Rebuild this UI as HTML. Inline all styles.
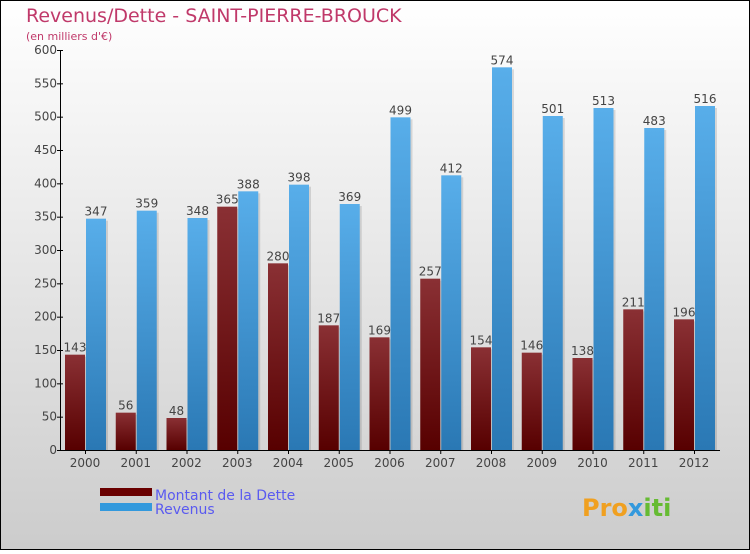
<!DOCTYPE html>
<html><head><meta charset="utf-8"><style>
body{margin:0}
#c{width:750px;height:550px;position:relative;font-family:"DejaVu Sans","Liberation Sans",sans-serif}
</style></head><body>
<div id="c">
<svg id="s" width="750" height="550" xmlns="http://www.w3.org/2000/svg">
<defs>
<linearGradient id="bg" x1="0" y1="0" x2="0" y2="1"><stop offset="0" stop-color="#ffffff"/><stop offset="1" stop-color="#cccccc"/></linearGradient>
<linearGradient id="gd" x1="0" y1="0" x2="0" y2="1"><stop offset="0" stop-color="#8a3034"/><stop offset="1" stop-color="#570000"/></linearGradient>
<linearGradient id="gr" x1="0" y1="0" x2="0" y2="1"><stop offset="0" stop-color="#58aeea"/><stop offset="1" stop-color="#2a78b4"/></linearGradient>
</defs>
<rect x="0.5" y="0.5" width="749" height="549" fill="url(#bg)" stroke="#000"/>
<text x="26" y="22" font-size="19" fill="#c0396a">Revenus/Dette - SAINT-PIERRE-BROUCK</text>
<text x="26" y="40" font-size="11" fill="#c0396a">(en milliers d'€)</text>
<g id="plot"></g>
<rect x="100" y="488" width="52" height="8" fill="#6a0000"/>
<rect x="100" y="503" width="52" height="8" fill="#3399dd"/>
<text x="155" y="500" font-size="14" fill="#5a5af0">Montant de la Dette</text>
<text x="155" y="514" font-size="14" fill="#5a5af0">Revenus</text>
<text x="582" y="516" font-size="24" font-weight="bold" fill="#f0a020">Pro<tspan fill="#3399dd">x</tspan><tspan fill="#66bb33">iti</tspan></text>
</svg>
</div>
<script>
const years=["2000","2001","2002","2003","2004","2005","2006","2007","2008","2009","2010","2011","2012"];
const dette=[143,56,48,365,280,187,169,257,154,146,138,211,196];
const revenus=[347,359,348,388,398,369,499,412,574,501,513,483,516];
const yTicks=[0,50,100,150,200,250,300,350,400,450,500,550,600];
const NS="http://www.w3.org/2000/svg";
const g=document.getElementById('plot');
const x0=60,y0=450,yTop=50,step=50.75,bw=20;
function y(v){return y0-(v/600)*(y0-yTop);}
function gx(i){return 65+i*step;}
function mk(t,a){const e=document.createElementNS(NS,t);for(const k in a)e.setAttribute(k,a[k]);g.appendChild(e);return e;}
years.forEach((yr,i)=>{
  const xd=gx(i),xr=xd+bw+1;
  let sh=mk('rect',{x:xd+2,y:y(dette[i])+2,width:bw,height:y0-y(dette[i])-2,fill:'rgba(0,0,0,0.12)'});
  
  
  let r=mk('rect',{x:xd,y:y(dette[i]),width:bw,height:y0-y(dette[i]),fill:'url(#gd)'});
  
  
  let sh2=mk('rect',{x:xr+2,y:y(revenus[i])+2,width:bw,height:y0-y(revenus[i])-2,fill:'rgba(0,0,0,0.12)'});
  
  
  let r2=mk('rect',{x:xr,y:y(revenus[i]),width:bw,height:y0-y(revenus[i]),fill:'url(#gr)'});
  
  
  let t=mk('text',{x:xd+bw/2,y:y(dette[i])-3,'font-size':12,fill:'#444','text-anchor':'middle'});t.textContent=dette[i];
  
  
  let t2=mk('text',{x:xr+bw/2,y:y(revenus[i])-3,'font-size':12,fill:'#444','text-anchor':'middle'});t2.textContent=revenus[i];
  
  
  let l=mk('text',{x:xd+bw,y:467,'font-size':12,fill:'#444','text-anchor':'middle'});l.textContent=yr;
  
  
  let tk=mk('line',{x1:xd+bw+0.5,x2:xd+bw+0.5,y1:y0,y2:y0+4,stroke:'#000'});
  
  
});
yTicks.forEach(v=>{
  let tk=mk('line',{x1:x0-3,x2:x0+3,y1:y(v)+0.5,y2:y(v)+0.5,stroke:'#000'});
  
  
  let t=mk('text',{x:x0-3,y:y(v)+4,'font-size':12,fill:'#444','text-anchor':'end'});t.textContent=v;
  
  
});
let ax=mk('line',{x1:x0+0.5,x2:x0+0.5,y1:yTop,y2:y0,stroke:'#000'});


let ax2=mk('line',{x1:x0,x2:720,y1:y0+0.5,y2:y0+0.5,stroke:'#000'});


</script>
</body></html>
